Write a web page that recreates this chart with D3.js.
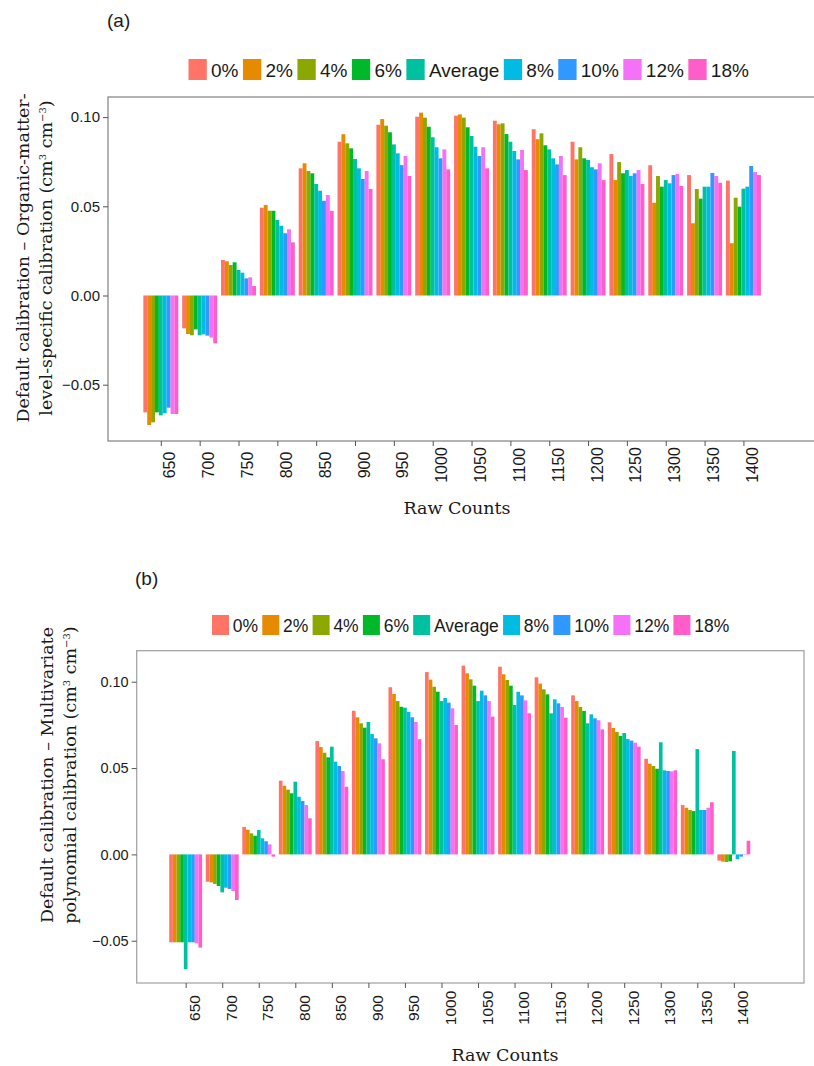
<!DOCTYPE html>
<html>
<head>
<meta charset="utf-8">
<script src="https://cdn.jsdelivr.net/npm/d3@7"></script>
<style>
  body { margin: 0; background: #fff; }
  svg { display: block; }
</style>
</head>
<body>
<svg id="chart" width="814" height="1066"></svg>
<script>
// raw count categories (x axis)
var rawCounts = [650, 700, 750, 800, 850, 900, 950, 1000, 1050, 1100, 1150, 1200, 1250, 1300, 1350, 1400];

// series (legend order)
var seriesNames = ["0%", "2%", "4%", "6%", "Average", "8%", "10%", "12%", "18%"];
var seriesColors = ["#FF7466", "#E68A00", "#8AA800", "#00B92A", "#00C19F", "#00BCE3", "#2F99FF", "#F471F8", "#FF5DC9"];

var yTicks = [-0.05, 0.00, 0.05, 0.10];

// (a) default - organic-matter-level-specific calibration, one row per series
var organicSpecific = [
  [-0.0655, -0.0184, 0.0199, 0.0492, 0.0713, 0.0862, 0.0957, 0.1002, 0.1008, 0.0980, 0.0932, 0.0862, 0.0793, 0.0730, 0.0675, 0.0644],
  [-0.0726, -0.0216, 0.0192, 0.0507, 0.0741, 0.0904, 0.0989, 0.1025, 0.1015, 0.0960, 0.0876, 0.0763, 0.0647, 0.0520, 0.0405, 0.0293],
  [-0.0711, -0.0223, 0.0171, 0.0475, 0.0698, 0.0853, 0.0952, 0.0997, 0.0997, 0.0965, 0.0909, 0.0831, 0.0748, 0.0670, 0.0597, 0.0548],
  [-0.0655, -0.0190, 0.0186, 0.0475, 0.0685, 0.0825, 0.0915, 0.0946, 0.0943, 0.0905, 0.0842, 0.0769, 0.0685, 0.0610, 0.0543, 0.0498],
  [-0.0672, -0.0223, 0.0143, 0.0423, 0.0625, 0.0765, 0.0847, 0.0887, 0.0894, 0.0862, 0.0819, 0.0760, 0.0703, 0.0647, 0.0610, 0.0599],
  [-0.0660, -0.0218, 0.0128, 0.0391, 0.0587, 0.0713, 0.0797, 0.0831, 0.0834, 0.0810, 0.0769, 0.0719, 0.0670, 0.0629, 0.0610, 0.0610],
  [-0.0629, -0.0225, 0.0096, 0.0349, 0.0531, 0.0653, 0.0731, 0.0769, 0.0782, 0.0763, 0.0735, 0.0707, 0.0685, 0.0675, 0.0687, 0.0726],
  [-0.0664, -0.0236, 0.0102, 0.0371, 0.0563, 0.0698, 0.0782, 0.0819, 0.0831, 0.0816, 0.0782, 0.0741, 0.0703, 0.0681, 0.0670, 0.0692],
  [-0.0664, -0.0268, 0.0053, 0.0298, 0.0475, 0.0597, 0.0670, 0.0707, 0.0713, 0.0703, 0.0675, 0.0647, 0.0625, 0.0614, 0.0632, 0.0675]
];

// (b) default - multivariate polynomial calibration, one row per series
var multivariatePoly = [
  [-0.0509, -0.0158, 0.0159, 0.0427, 0.0657, 0.0832, 0.0968, 0.1056, 0.1093, 0.1087, 0.1026, 0.0921, 0.0765, 0.0554, 0.0286, -0.0036],
  [-0.0509, -0.0162, 0.0143, 0.0398, 0.0622, 0.0794, 0.0929, 0.1012, 0.1049, 0.1043, 0.0989, 0.0888, 0.0732, 0.0525, 0.0270, -0.0042],
  [-0.0509, -0.0171, 0.0122, 0.0375, 0.0589, 0.0759, 0.0888, 0.0971, 0.1014, 0.1010, 0.0956, 0.0854, 0.0709, 0.0512, 0.0257, -0.0044],
  [-0.0509, -0.0183, 0.0108, 0.0354, 0.0562, 0.0734, 0.0855, 0.0942, 0.0977, 0.0977, 0.0927, 0.0831, 0.0686, 0.0496, 0.0251, -0.0040],
  [-0.0664, -0.0220, 0.0141, 0.0421, 0.0624, 0.0767, 0.0850, 0.0888, 0.0888, 0.0865, 0.0817, 0.0759, 0.0703, 0.0649, 0.0610, 0.0599],
  [-0.0509, -0.0193, 0.0093, 0.0334, 0.0537, 0.0697, 0.0826, 0.0906, 0.0948, 0.0942, 0.0898, 0.0811, 0.0668, 0.0487, 0.0257, -0.0028],
  [-0.0509, -0.0200, 0.0076, 0.0309, 0.0512, 0.0672, 0.0794, 0.0879, 0.0921, 0.0921, 0.0875, 0.0788, 0.0659, 0.0483, 0.0257, -0.0013],
  [-0.0515, -0.0212, 0.0058, 0.0286, 0.0483, 0.0643, 0.0767, 0.0846, 0.0888, 0.0892, 0.0854, 0.0777, 0.0647, 0.0481, 0.0270, 0.0003],
  [-0.0540, -0.0264, -0.0013, 0.0209, 0.0392, 0.0551, 0.0667, 0.0749, 0.0798, 0.0817, 0.0792, 0.0724, 0.0624, 0.0487, 0.0302, 0.0079]
];

var svg = d3.select("#chart");
svg.append("rect").attr("width", 814).attr("height", 1066).attr("fill", "#fff");

var sans = "'Liberation Sans', Arial, sans-serif";
var serif = "'DejaVu Serif', serif";
var barUnits = 5; // dodge width of one bar, in raw-count units

function drawPanel(cfg) {
  var g = svg.append("g");
  var x = d3.scaleLinear().domain(cfg.xDomain).range([cfg.left, cfg.right]);
  var y = d3.scaleLinear().domain(cfg.yDomain).range([cfg.bottom, cfg.top]);

  // long data
  var rows = [];
  cfg.values.forEach(function(vals, s) {
    vals.forEach(function(v, i) {
      rows.push({ s: s, raw: rawCounts[i], v: v });
    });
  });

  var bw = x(barUnits) - x(0);
  g.selectAll(".bar")
    .data(rows)
    .enter().append("rect")
    .attr("class", "bar")
    .attr("x", function(d) { return x(d.raw + (d.s - 4) * barUnits - barUnits / 2); })
    .attr("width", bw)
    .attr("y", function(d) { return y(Math.max(0, d.v)); })
    .attr("height", function(d) { return Math.abs(y(d.v) - y(0)); })
    .attr("fill", function(d) { return seriesColors[d.s]; });

  // panel border
  g.append("rect")
    .attr("x", cfg.left).attr("y", cfg.top)
    .attr("width", cfg.right - cfg.left).attr("height", cfg.bottom - cfg.top)
    .attr("fill", "none").attr("stroke", cfg.border).attr("stroke-width", 1.3);

  // y axis
  var ya = g.append("g")
    .attr("transform", "translate(" + cfg.left + ",0)")
    .call(d3.axisLeft(y).tickValues(yTicks).tickFormat(d3.format(".2f")).tickSize(5).tickPadding(3));
  ya.select(".domain").remove();
  ya.selectAll("line").attr("stroke", "#555");
  ya.selectAll("text").style("font-family", sans).style("font-size", cfg.tickFont + "px").attr("fill", "#1a1a1a");

  // x axis
  var xa = g.append("g")
    .attr("transform", "translate(0," + cfg.bottom + ")")
    .call(d3.axisBottom(x).tickValues(rawCounts).tickFormat(d3.format("d")).tickSize(5));
  xa.select(".domain").remove();
  xa.selectAll("line").attr("stroke", "#555");
  xa.selectAll("text")
    .attr("y", null).attr("dy", null)
    .attr("transform", "translate(" + cfg.labelShift + "," + cfg.labelMid + ") rotate(-90)")
    .style("text-anchor", "middle")
    .style("font-family", sans).style("font-size", cfg.xTickFont + "px").attr("fill", "#1a1a1a");

  // axis titles
  g.append("text")
    .attr("x", cfg.xTitleX).attr("y", cfg.xTitleY)
    .attr("text-anchor", "middle")
    .style("font-family", serif).style("font-size", "17.5px").attr("fill", "#1a1a1a")
    .text("Raw Counts");

  var yt = g.append("text")
    .attr("transform", "translate(" + cfg.yTitleX + "," + cfg.yTitleY + ") rotate(-90)")
    .attr("text-anchor", "middle")
    .style("font-family", serif).style("font-size", "17.5px").attr("fill", "#1a1a1a");
  yt.append("tspan").attr("x", 0).attr("dy", 0).text(cfg.yTitle1);
  var l2 = yt.append("tspan").attr("x", 0).attr("dy", cfg.yTitleGap);
  l2.append("tspan").text(cfg.yTitle2 + " (cm");
  l2.append("tspan").attr("dy", -6).style("font-size", "10px").text("3");
  l2.append("tspan").attr("dy", 6).text(" cm");
  l2.append("tspan").attr("dy", -6).style("font-size", "10px").text("\u22123");
  l2.append("tspan").attr("dy", 6).text(")");

  // panel tag
  g.append("text")
    .attr("x", cfg.tagX).attr("y", cfg.tagY)
    .style("font-family", sans).style("font-size", "19px").attr("fill", "#1a1a1a")
    .text(cfg.tag);

  // legend
  var lg = g.append("g");
  var cx = cfg.legendX;
  seriesNames.forEach(function(name, s) {
    lg.append("rect")
      .attr("x", cx).attr("y", cfg.legendY)
      .attr("width", cfg.keyW).attr("height", cfg.keyH)
      .attr("fill", seriesColors[s]);
    cx += cfg.keyW + cfg.keyGap;
    var t = lg.append("text")
      .attr("x", cx).attr("y", cfg.legendY + cfg.keyH - 3)
      .style("font-family", sans).style("font-size", cfg.legendFont + "px").attr("fill", "#1a1a1a")
      .text(name);
    cx += t.node().getComputedTextLength() + cfg.itemGap;
  });
}

drawPanel({
  values: organicSpecific,
  xDomain: [582, 1496], yDomain: [-0.08156, 0.11127],
  left: 108, right: 818, top: 97, bottom: 441,
  border: "#8a8a8a", tickFont: 15, xTickFont: 16, labelShift: 14, labelMid: 24,
  xTitleX: 457, xTitleY: 514,
  yTitleX: 29, yTitleY: 258, yTitleGap: 23,
  yTitle1: "Default calibration \u2013 Organic-matter-",
  yTitle2: "level-specific calibration",
  tag: "(a)", tagX: 107, tagY: 27,
  legendX: 188.5, legendY: 59, keyW: 18.3, keyH: 21, keyGap: 4.2, itemGap: 4.5, legendFont: 19
});

drawPanel({
  values: multivariatePoly,
  xDomain: [583, 1496], yDomain: [-0.07448, 0.11797],
  left: 136.7, right: 804, top: 650.7, bottom: 983,
  border: "#a6a6a6", tickFont: 14.5, xTickFont: 15.5, labelShift: 14, labelMid: 25,
  xTitleX: 505, xTitleY: 1061,
  yTitleX: 53, yTitleY: 775, yTitleGap: 23,
  yTitle1: "Default calibration \u2013 Multivariate",
  yTitle2: "polynomial calibration",
  tag: "(b)", tagX: 135, tagY: 585,
  legendX: 212, legendY: 615, keyW: 17, keyH: 20, keyGap: 3.8, itemGap: 4.2, legendFont: 17.5
});
</script>
</body>
</html>
